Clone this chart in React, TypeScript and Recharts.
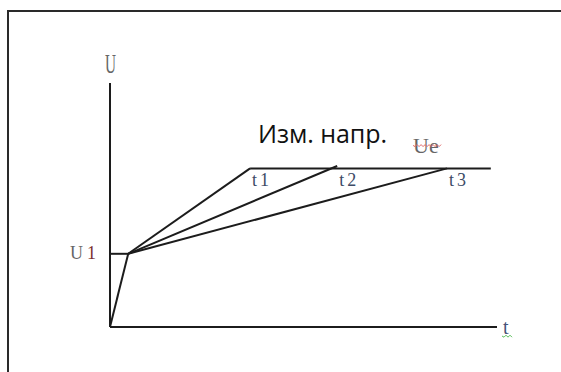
import { LineChart, Line, XAxis, YAxis, ReferenceDot, ReferenceLine } from 'recharts'

// time and voltage in arbitrary units, both axes 0..10
const tDomain = [0, 10]
const uDomain = [0, 10]

const riseT = [0, 0.47]
const riseU = [0, 3]
const u1Level = 3
const kneeT = 0.47
const rampEndT = [3.62, 5.87, 8.71]
const rampEndU = [6.5, 6.6, 6.5]
const rampNames = ['t1', 't2', 't3']
const ueLevel = 6.5
const ueLineT = [3.62, 9.84]

const riseData = riseT.map((t, i) => ({ t, u: riseU[i] }))
const u1Data = [{ t: 0, u: u1Level }, { t: kneeT, u: u1Level }]
const rampData = rampEndT.map((t, i) => [
  { t: kneeT, u: u1Level },
  { t, u: rampEndU[i] },
])
const ueData = ueLineT.map(t => ({ t, u: ueLevel }))

const ink = '#1c1c1c'
const serif = '"Liberation Serif", "DejaVu Serif", serif'

// zigzag like a spell-check underline
const squiggle = (x: number, y: number, len: number) => {
  let d = `M${x},${y}`
  for (let i = 1; i * 2 <= len; i++) d += ` L${x + i * 2},${y + (i % 2 ? 1.2 : -0.8)}`
  return d
}

const textAt = (render: (cx: number, cy: number) => any) => (p: any) => render(p.cx, p.cy)

export default function App() {
  return (
    <div style={{ position: 'fixed', left: 0, top: 0, width: 561, height: 372, background: '#fff', overflow: 'hidden' }}>
      <svg width={561} height={372} style={{ position: 'absolute', left: 0, top: 0 }}>
        <line x1={7} y1={11} x2={561} y2={11} stroke="#2a2a2a" strokeWidth={2} />
        <line x1={8} y1={10} x2={8} y2={372} stroke="#2a2a2a" strokeWidth={2} />
      </svg>
      <div style={{ position: 'absolute', left: 0, top: 0 }}>
        <LineChart width={561} height={372} margin={{ top: 83, right: 64, bottom: 45, left: 110 }}>
          <XAxis dataKey="t" type="number" domain={tDomain} allowDataOverflow hide />
          <YAxis dataKey="u" type="number" domain={uDomain} allowDataOverflow hide />
          <ReferenceLine x={tDomain[0]} stroke={ink} strokeWidth={2} ifOverflow="visible" />
          <ReferenceLine y={uDomain[0]} stroke={ink} strokeWidth={2} ifOverflow="visible" />
          <Line data={riseData} dataKey="u" stroke={ink} strokeWidth={2} dot={false} activeDot={false} isAnimationActive={false} />
          <Line data={u1Data} dataKey="u" stroke={ink} strokeWidth={2} dot={false} activeDot={false} isAnimationActive={false} />
          {rampData.map((d, i) => (
            <Line key={rampNames[i]} data={d} dataKey="u" stroke={ink} strokeWidth={2} dot={false} activeDot={false} isAnimationActive={false} />
          ))}
          <Line data={ueData} dataKey="u" stroke={ink} strokeWidth={2} dot={false} activeDot={false} isAnimationActive={false} />

          {rampEndT.map((t, i) => (
            <ReferenceDot
              key={'lbl' + i}
              x={t}
              y={ueLevel}
              r={0}
              ifOverflow="visible"
              shape={textAt((cx, cy) => (
                <text x={cx + 2} y={cy + 18} fontFamily={serif} fontSize={18} letterSpacing={3} fill="#3d4b66">
                  {rampNames[i]}
                </text>
              ))}
            />
          ))}

          {/* axis names */}
          <ReferenceDot
            x={tDomain[0]}
            y={uDomain[1]}
            r={0}
            ifOverflow="visible"
            shape={textAt((cx, cy) => (
              <text x={cx - 5} y={cy - 10} fontFamily={serif} fontSize={27} textLength={11} lengthAdjust="spacingAndGlyphs" fill="#666">
                U
              </text>
            ))}
          />
          <ReferenceDot
            x={tDomain[1]}
            y={uDomain[0]}
            r={0}
            ifOverflow="visible"
            shape={textAt((cx, cy) => (
              <g>
                <text x={cx + 6} y={cy + 7} fontFamily={serif} fontSize={20} fill="#46557a">
                  t
                </text>
                <path d={squiggle(cx + 5, cy + 9, 11)} stroke="#5cbf5c" strokeWidth={1} fill="none" />
              </g>
            ))}
          />
          <ReferenceDot
            x={tDomain[0]}
            y={u1Level}
            r={0}
            ifOverflow="visible"
            shape={textAt((cx, cy) => (
              <text x={cx - 40} y={cy + 5} fontFamily={serif} fontSize={18} fill="#666">
                U
                <tspan dx={4} fill="#7a3030">1</tspan>
              </text>
            ))}
          />
          <ReferenceDot
            x={ueLineT[0]}
            y={ueLevel}
            r={0}
            ifOverflow="visible"
            shape={textAt((cx, cy) => (
              <text x={cx + 8} y={cy - 25} fontFamily='"Open Sans", sans-serif' fontSize={25} textLength={129} fill="#111">
                Изм. напр.
              </text>
            ))}
          />
          <ReferenceDot
            x={rampEndT[2]}
            y={ueLevel}
            r={0}
            ifOverflow="visible"
            shape={textAt((cx, cy) => (
              <g>
                <text x={cx - 34} y={cy - 15} fontFamily={serif} fontSize={22} fill="#666">
                  Ue
                </text>
                <path d={squiggle(cx - 34, cy - 23, 29)} stroke="#e06a6a" strokeWidth={1} fill="none" />
              </g>
            ))}
          />
        </LineChart>
      </div>
    </div>
  )
}
